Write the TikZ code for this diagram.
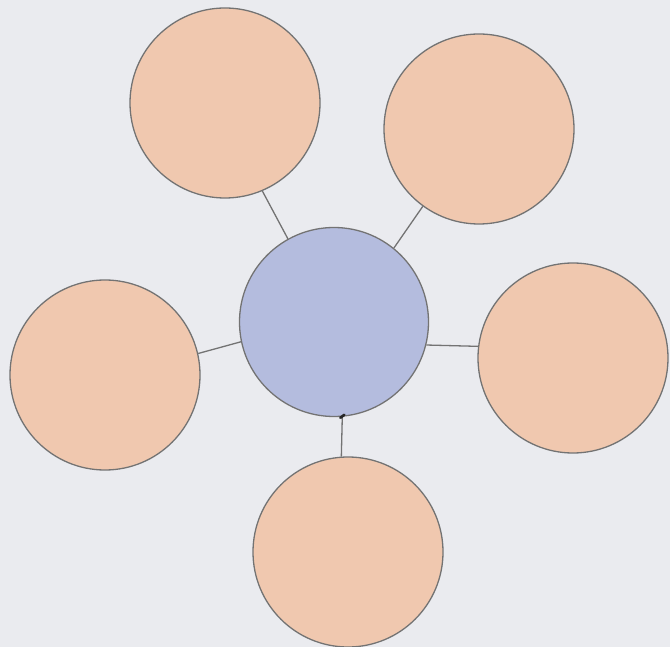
\documentclass[tikz,border=0pt]{standalone}
\begin{document}
\begin{tikzpicture}[x=1pt,y=-1pt,
  bubble/.style={circle,draw=black!55,line width=1.3pt,inner sep=0pt,minimum size=190pt,fill=peach},
  hub/.style={circle,draw=black!55,line width=1.3pt,inner sep=0pt,minimum size=189pt,fill=hubblue},
  link/.style={draw=black!55,line width=1.3pt}]
\definecolor{peach}{RGB}{240,200,175}
\definecolor{hubblue}{RGB}{180,188,222}
\definecolor{bg}{RGB}{234,235,239}
\fill[bg] (0,0) rectangle (670,647);
\useasboundingbox (0,0) rectangle (670,647);
\node[hub] (c) at (334,322) {};
\node[bubble] (tl) at (225,103) {};
\node[bubble] (tr) at (479,129) {};
\node[bubble] (l) at (105,375) {};
\node[bubble] (r) at (573,358) {};
\node[bubble] (b) at (348,552) {};
\draw[link] (c.119) -- (tl.-67);
\draw[link] (c.51) -- (tr.234);
\draw[link] (c.192) -- (l.13);
\draw[link] (c.-14) -- (r.173);
\draw[link] (c.-85) -- (b.94);
\draw[line width=2.6pt,line cap=round,black!85] ([xshift=-2pt,yshift=-1pt]c.-85) -- ([xshift=2pt,yshift=2pt]c.-85);
\end{tikzpicture}
\end{document}
